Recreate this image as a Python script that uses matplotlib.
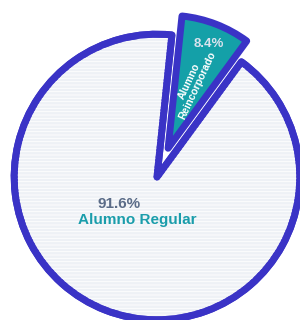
import numpy as np
import matplotlib
matplotlib.use("Agg")
import matplotlib.pyplot as plt
from matplotlib.patches import Wedge

# --- Data ---
labels = ["Alumno Reincorporado", "Alumno Regular"]
shares = [8.4, 91.6]
pct_labels = ["8.4%", "91.6%"]

blue = "#3a33c6"
teal = "#14a0a8"
pale = "#eef1f6"

plt.rcParams["font.family"] = ["Liberation Sans", "DejaVu Sans"]
plt.rcParams["hatch.linewidth"] = 0.6

fig = plt.figure(figsize=(3.0, 3.2), dpi=100)
ax = fig.add_axes([0, 0, 1, 1])

wedges, _ = ax.pie(
    shares,
    startangle=84,
    counterclock=False,
    explode=[0.22, 0],
    radius=1.02,
    colors=[teal, pale],
    wedgeprops=dict(edgecolor=blue, linewidth=5, joinstyle="round"),
)

# pulled-out slice is drawn a little shorter, as in the original
small = wedges[0]
small.set_radius(0.95)

# faint horizontal stripes on the big slice, then its border again on top
big = wedges[1]
ax.add_patch(Wedge(big.center, big.r, big.theta1, big.theta2, facecolor="none",
                   edgecolor="white", linewidth=0, hatch="-----", zorder=2))
ax.add_patch(Wedge(big.center, big.r, big.theta1, big.theta2, facecolor="none",
                   edgecolor=blue, linewidth=5, joinstyle="round", zorder=3))

# labels in the small slice
cx, cy = small.center
mid_deg = (small.theta1 + small.theta2) / 2
mid = np.deg2rad(mid_deg)
ax.text(cx + 0.80 * np.cos(mid), cy + 0.80 * np.sin(mid), pct_labels[0],
        ha="center", va="center", fontsize=9.5, fontweight="bold",
        color="#dbe3ee", zorder=4)
ax.text(cx + 0.50 * np.cos(mid), cy + 0.50 * np.sin(mid), "Alumno\nReincorporado",
        ha="center", va="center", fontsize=7.5, fontweight="bold", color="white",
        rotation=mid_deg - 4, rotation_mode="anchor", linespacing=1.0, zorder=4)

# labels in the big slice
ax.text(-0.27, -0.19, pct_labels[1], ha="center", va="center", fontsize=11,
        fontweight="bold", color="#5b6c88", zorder=4)
ax.text(-0.14, -0.31, labels[1], ha="center", va="center", fontsize=11,
        fontweight="bold", color="#1a9dab", zorder=4)

ax.set_xlim(-157 / 140, 143 / 140)
ax.set_ylim(-143 / 140, 177 / 140)
ax.set_aspect("equal")
ax.axis("off")

fig.savefig("out.png", dpi=100)
